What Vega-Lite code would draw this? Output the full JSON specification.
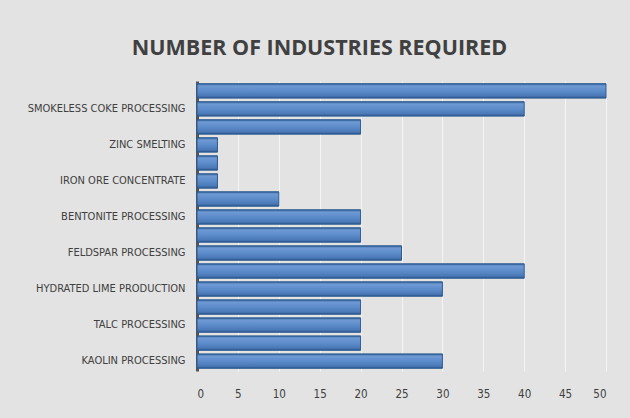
{
  "$schema": "https://vega.github.io/schema/vega-lite/v6.json",
  "width": 409,
  "height": 290,
  "autosize": {"type": "none"},
  "padding": {"left": 197, "top": 81, "right": 24, "bottom": 47},
  "background": "#e3e3e3",
  "title": {
    "text": "NUMBER OF INDUSTRIES REQUIRED",
    "fontSize": 21.5,
    "fontWeight": "bold",
    "font": "Open Sans",
    "color": "#404040",
    "anchor": "middle",
    "dx": -82,
    "offset": 22
  },
  "data": {
    "values": [
      {"name": "Unlabeled 8", "count": 50},
      {"name": "SMOKELESS COKE PROCESSING", "count": 40},
      {"name": "Unlabeled 7", "count": 20},
      {"name": "ZINC SMELTING", "count": 2.5},
      {"name": "Unlabeled 6", "count": 2.5},
      {"name": "IRON ORE CONCENTRATE", "count": 2.5},
      {"name": "Unlabeled 5", "count": 10},
      {"name": "BENTONITE PROCESSING", "count": 20},
      {"name": "Unlabeled 4", "count": 20},
      {"name": "FELDSPAR PROCESSING", "count": 25},
      {"name": "Unlabeled 3", "count": 40},
      {"name": "HYDRATED LIME PRODUCTION", "count": 30},
      {"name": "Unlabeled 2", "count": 20},
      {"name": "TALC PROCESSING", "count": 20},
      {"name": "Unlabeled 1", "count": 20},
      {"name": "KAOLIN PROCESSING", "count": 30}
    ]
  },
  "mark": {
    "type": "bar",
    "stroke": "#2c5a8f",
    "strokeWidth": 1,
    "color": {
      "gradient": "linear",
      "x1": 0, "y1": 0, "x2": 0, "y2": 1,
      "stops": [
        {"offset": 0, "color": "#2f5f9a"},
        {"offset": 0.15, "color": "#6f9ad4"},
        {"offset": 0.5, "color": "#5d8ccb"},
        {"offset": 0.85, "color": "#4a78b6"},
        {"offset": 1, "color": "#2b5690"}
      ]
    }
  },
  "encoding": {
    "y": {
      "field": "name",
      "type": "nominal",
      "sort": null,
      "scale": {"paddingInner": 0.2, "paddingOuter": 0.15},
      "axis": {
        "title": null,
        "values": ["SMOKELESS COKE PROCESSING", "ZINC SMELTING", "IRON ORE CONCENTRATE", "BENTONITE PROCESSING", "FELDSPAR PROCESSING", "HYDRATED LIME PRODUCTION", "TALC PROCESSING", "KAOLIN PROCESSING"],
        "ticks": false,
        "domainColor": "#555555",
        "domainWidth": 3,
        "labelFont": "DejaVu Sans Condensed, Roboto, sans-serif",
        "labelFontSize": 11,
        "labelColor": "#404040",
        "labelPadding": 12,
        "labelLimit": 200
      }
    },
    "x": {
      "field": "count",
      "type": "quantitative",
      "scale": {"domain": [0, 50], "nice": false},
      "axis": {
        "title": null,
        "values": [0, 5, 10, 15, 20, 25, 30, 35, 40, 45, 50],
        "domain": false,
        "ticks": false,
        "grid": true,
        "gridColor": "#f4f4f4",
        "gridWidth": 1,
        "labelFont": "DejaVu Sans Condensed, Roboto, sans-serif",
        "labelFontSize": 11.5,
        "labelColor": "#404040",
        "labelPadding": 17
      }
    }
  },
  "config": {
    "view": {"stroke": null}
  }
}
